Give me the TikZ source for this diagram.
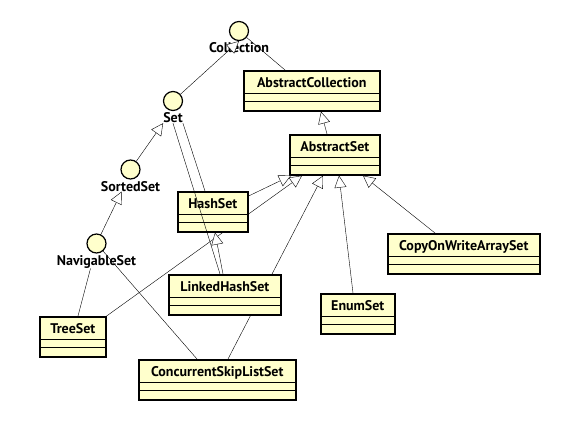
\documentclass[tikz,border=0pt]{standalone}
\usepackage{fontspec}
\setmainfont{PT Sans}
\usetikzlibrary{arrows.meta,positioning}
\definecolor{umlyellow}{RGB}{255,255,204}
\pgfdeclarelayer{background}
\pgfsetlayers{background,main}
\tikzset{
  cls/.style={draw, line width=1.6pt, fill=umlyellow, anchor=north west,
    inner sep=0pt, minimum height=40pt, text height=17pt, text depth=23pt,
    font=\bfseries\fontsize{14}{16}\selectfont,
    path picture={
      \draw[line width=0.7pt] ([yshift=9pt]path picture bounding box.south west)
        -- ([yshift=9pt]path picture bounding box.south east);
      \draw[line width=0.7pt] ([yshift=17.5pt]path picture bounding box.south west)
        -- ([yshift=17.5pt]path picture bounding box.south east);
    }},
  iface/.style={circle, draw, line width=1.2pt, fill=umlyellow, minimum size=19pt, inner sep=0pt},
  ifacename/.style={inner sep=0pt, font=\bfseries\fontsize{14}{16}\selectfont},
  inherit/.style={-{Triangle[fill=white,length=12pt,width=12pt]}}
}
\begin{document}
\begin{tikzpicture}[x=1pt,y=-1pt,line width=0.6pt]
  \useasboundingbox (0,0) rectangle (564,421);
  \begin{pgfonlayer}{background}
    \fill[white] (0,0) rectangle (564,421);
  \end{pgfonlayer}
  %% Interfaces
  \node[iface] (coll) at (239,31) {};
  \node[ifacename,below=1.5pt of coll] (colllbl) {Collection};
  \node[iface] (set) at (173,101) {};
  \node[ifacename,below=1.5pt of set] (setlbl) {Set};
  \node[iface] (sorted) at (130.5,169.5) {};
  \node[ifacename,below=1.5pt of sorted] (sortedlbl) {SortedSet};
  \node[iface] (nav) at (96.5,243.5) {};
  \node[ifacename,below=1.5pt of nav] (navlbl) {NavigableSet};
  %% Classes
  \node[cls,minimum width=136pt] (absc) at (243,70) {AbstractCollection};
  \node[cls,minimum width=90pt] (abss) at (289,134) {AbstractSet};
  \node[cls,minimum width=70pt] (hs) at (177,191) {HashSet};
  \node[cls,minimum width=112pt] (lhs) at (168,274) {LinkedHashSet};
  \node[cls,minimum width=66pt] (ts) at (39,316) {TreeSet};
  \node[cls,minimum width=157pt] (csls) at (138,359) {ConcurrentSkipListSet};
  \node[cls,minimum width=152pt] (cow) at (387,233) {CopyOnWriteArraySet};
  \node[cls,minimum width=74pt] (es) at (320,293) {EnumSet};
  %% Interface hierarchy
  \draw[inherit] (set) -- (coll.south);
  \draw[inherit] (sorted) -- (setlbl.south west);
  \draw[inherit] (nav) -- ([xshift=-9pt]sortedlbl.south);
  %% Implemented interfaces
  \draw (coll) -- ([xshift=42pt]absc.north west);
  \draw (setlbl.south east) -- ([xshift=28pt]hs.north west);
  \draw (setlbl.south) -- ([xshift=52pt]lhs.north west);
  \draw ([xshift=-6pt]navlbl.south) -- ([xshift=39pt]ts.north west);
  \draw (nav) -- ([xshift=59pt]csls.north west);
  %% Superclasses
  \draw[inherit] ([xshift=38pt]abss.north west) -- ([xshift=78pt]absc.south west);
  \draw[inherit] ([yshift=-5pt]hs.north east) -- ([xshift=2pt]abss.south west);
  \draw[inherit] ([xshift=55pt]lhs.north west) -- ([xshift=38pt]hs.south west);
  \draw[inherit] ([xshift=33pt]es.north west) -- ([xshift=50pt]abss.south west);
  \draw[inherit] ([xshift=48pt]cow.north west) -- ([xshift=74pt]abss.south west);
  \begin{pgfonlayer}{background}
    \draw[inherit] (ts.north east) -- ([xshift=13pt]abss.south west);
    \draw[inherit] ([xshift=90pt]csls.north west) -- ([xshift=34pt]abss.south west);
  \end{pgfonlayer}
\end{tikzpicture}
\end{document}
